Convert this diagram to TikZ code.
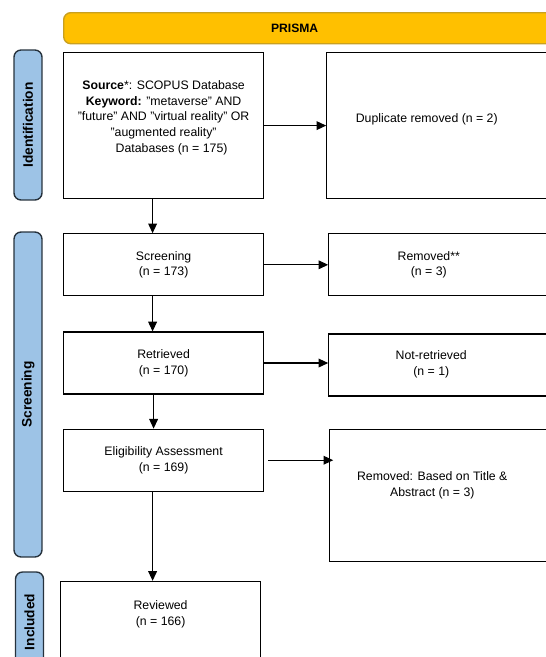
\documentclass[tikz,border=0pt]{standalone}
\usepackage{fontspec}
\setmainfont{Liberation Sans}
\usepackage{tikz}
\usetikzlibrary{positioning,arrows.meta}

\definecolor{prismaorange}{HTML}{FFC000}
\definecolor{prismaedge}{HTML}{C9A020}
\definecolor{phaseblue}{HTML}{9DC3E6}
\definecolor{phaseedge}{HTML}{26323D}

\begin{document}
\begin{tikzpicture}[x=0.02cm,y=-0.02cm,node distance=0.68cm,
      txt/.style={font=\fontsize{7}{9}\selectfont},
      box/.style={draw,line width=0.7pt,minimum width=4cm,minimum height=1.24cm,
        align=center,inner sep=1pt,txt},
      sidebox/.style={draw,line width=0.8pt,rectangle,rounded corners=4pt,fill=phaseblue,
        draw=phaseedge,rotate=90,minimum height=0.56cm,
        font=\fontsize{7.8}{9}\selectfont\bfseries},
      banner/.style={draw=prismaedge,line width=0.8pt,fill=prismaorange,rounded corners=4pt,
        minimum width=10.3cm,minimum height=0.62cm,anchor=north west},
      >={Triangle[length=5.5pt,width=5pt]}]
  \clip (0,0) rectangle (546,657);

  % top banner
  \node[banner,label={[xshift=-0.53cm,font=\fontsize{6.9}{8}\selectfont\bfseries]center:PRISMA}]
    (prisma) at (63,12) {};

  % phases
  \node[sidebox,minimum width=3cm]   (ident)  at (28,125)   {Identification};
  \node[sidebox,minimum width=6.5cm] (screen) at (28,394.5) {Screening};
  \node[sidebox,minimum width=2cm]   (incl)   at (29.5,622) {Included};

  % main column
  \node[box,minimum height=2.92cm,anchor=north west] (src) at (63,52)
    {\textbf{Source}*: SCOPUS Database\\
     \textbf{Keyword:} "metaverse" AND\\
     "future" AND "virtual reality" OR\\
     "augmented reality"\\
     \hspace*{1.3em}Databases (n = 175)\\[0.2em]};
  \node[box,below=of src]  (scr)  {Screening\\(n = 173)};
  \node[box,below=0.7cm of scr] (ret)  {Retrieved\\(n = 170)};
  \node[box,below=of ret]  (elig) {Eligibility Assessment\\(n = 169)};
  \node[box,below=1.78cm of elig,xshift=-0.06cm,minimum height=2cm,
    label={[yshift=0.34cm,align=center,txt]center:Reviewed\\(n = 166)}]
    (rev) {};

  % removed column
  \node[box,minimum width=4.9cm,minimum height=2.92cm,right=1.24cm of src,
    label={[xshift=-0.45cm,yshift=0.12cm,txt]center:Duplicate removed (n = 2)}]
    (dup) {};
  \node[box,minimum width=4.9cm,right=1.28cm of scr,
    label={[xshift=-0.45cm,align=center,txt]center:Removed**\\(n = 3)}]
    (rmscr) {};
  \node[box,minimum width=4.9cm,right=1.28cm of ret,yshift=-0.04cm,
    label={[xshift=-0.4cm,yshift=0.02cm,align=center,txt]center:Not-retrieved\\(n = 1)}]
    (nret) {};
  \node[box,minimum width=4.9cm,minimum height=2.64cm,right=1.3cm of elig.north east,anchor=north west,
    label={[xshift=-0.4cm,yshift=0.2cm,align=center,txt]center:Removed: Based on Title \&\\Abstract (n = 3)}]
    (rmtit) {};

  % arrows
  \draw[->,line width=0.6pt] (src) -- (dup);
  \draw[->,line width=0.6pt] (scr) -- (rmscr);
  \draw[->,line width=0.6pt] (ret.east) -- (ret.east -| nret.west);
  \draw[->,line width=0.6pt] ([xshift=0.08cm]elig.east) -- ([xshift=0.08cm]elig.east -| rmtit.west);
  \draw[->,line width=0.6pt] ([xshift=-0.22cm]src.south) -- ([xshift=-0.22cm]scr.north);
  \draw[->,line width=0.6pt] ([xshift=-0.22cm]scr.south) -- ([xshift=-0.22cm]ret.north);
  \draw[->,line width=0.6pt] ([xshift=-0.2cm]ret.south) -- ([xshift=-0.2cm]elig.north);
  \draw[->,line width=0.6pt] ([xshift=-0.22cm]elig.south) -- ([xshift=-0.22cm]elig.south |- rev.north);
\end{tikzpicture}
\end{document}
